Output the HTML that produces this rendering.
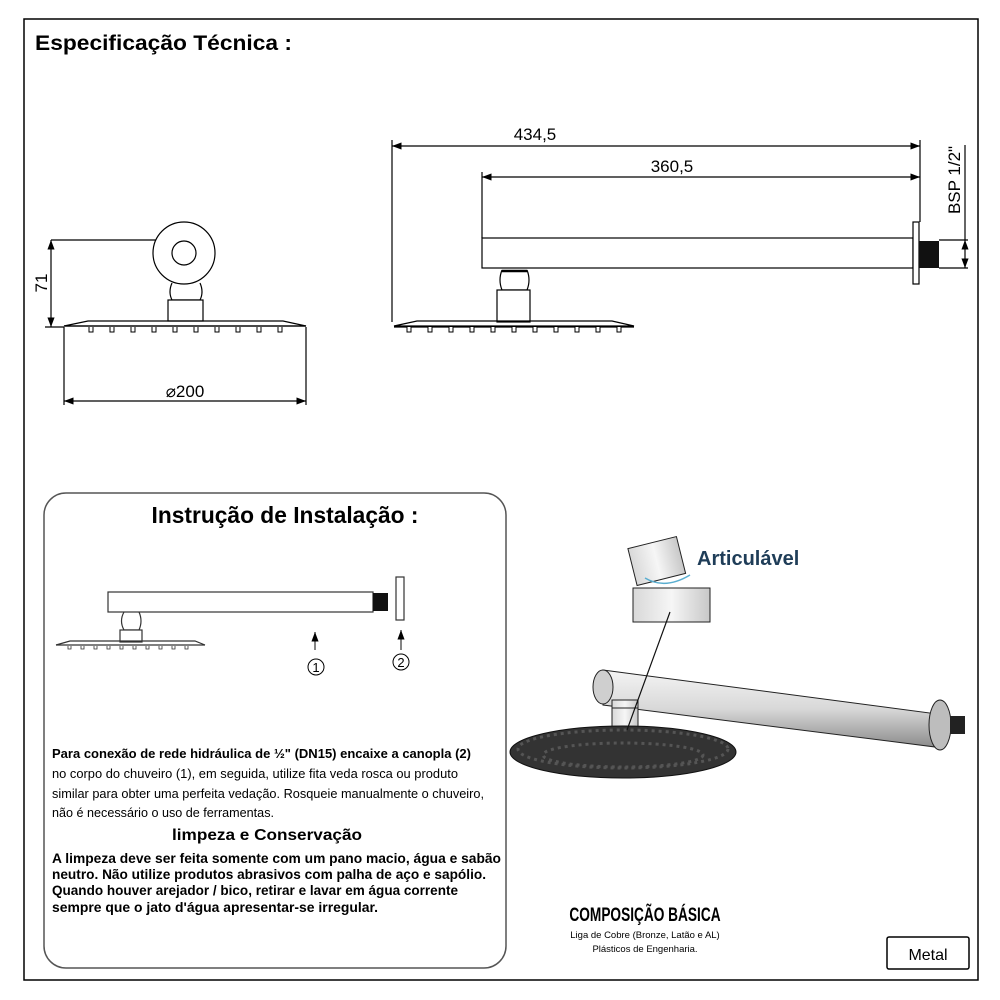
<!DOCTYPE html>
<html><head><meta charset="utf-8"><style>
html,body{margin:0;padding:0;background:#fff;}
svg{display:block;}
text{font-family:"Liberation Sans",sans-serif;}
</style></head><body>
<svg width="1000" height="1000" viewBox="0 0 1000 1000" xmlns="http://www.w3.org/2000/svg">
<defs>
<linearGradient id="tube" x1="0" y1="0" x2="0" y2="1">
<stop offset="0" stop-color="#f4f4f4"/><stop offset="0.5" stop-color="#d8d8d8"/><stop offset="1" stop-color="#8a8a8a"/>
</linearGradient>
<linearGradient id="box" x1="0" y1="0" x2="1" y2="0">
<stop offset="0" stop-color="#d8d8d8"/><stop offset="0.5" stop-color="#f6f6f6"/><stop offset="1" stop-color="#c8c8c8"/>
</linearGradient>
<marker id="ar" markerWidth="8" markerHeight="6" refX="8" refY="3" orient="auto"><path d="M0,0 L8,3 L0,6 z" fill="#000"/></marker>
<marker id="al" markerWidth="8" markerHeight="6" refX="0" refY="3" orient="auto"><path d="M8,0 L0,3 L8,6 z" fill="#000"/></marker>
</defs>
<rect x="24" y="19" width="954" height="961" fill="none" stroke="#000" stroke-width="1.5"/>
<text x="35" y="50" font-size="21" font-weight="bold" textLength="257" lengthAdjust="spacingAndGlyphs">Especificação Técnica :</text>

<!-- left drawing -->
<g stroke="#000" fill="none" stroke-width="1.2">
<line x1="51" y1="240" x2="184" y2="240"/>
<line x1="51" y1="240" x2="51" y2="327" marker-start="url(#al)" marker-end="url(#ar)"/>
<line x1="45" y1="327" x2="64" y2="327"/>
<circle cx="184" cy="253" r="31" fill="#fff"/>
<circle cx="184" cy="253" r="12"/>
<path d="M172,283 Q168,292 172,300 L200,300 Q204,292 200,283"/>
<rect x="168" y="300" width="35" height="21" fill="#fff"/>
<path d="M64,326 L88,321 L283,321 L306,326 Z"/>
<line x1="64" y1="326" x2="306" y2="326"/>
<line x1="64" y1="327" x2="64" y2="405"/>
<line x1="306" y1="327" x2="306" y2="405"/>
<line x1="64" y1="401" x2="306" y2="401" marker-start="url(#al)" marker-end="url(#ar)"/>
</g>
<g fill="#fff" stroke="#000" stroke-width="1">
<path d="M89,327 v5 h4 v-5"/><path d="M110,327 v5 h4 v-5"/><path d="M131,327 v5 h4 v-5"/><path d="M152,327 v5 h4 v-5"/><path d="M173,327 v5 h4 v-5"/><path d="M194,327 v5 h4 v-5"/><path d="M215,327 v5 h4 v-5"/><path d="M236,327 v5 h4 v-5"/><path d="M257,327 v5 h4 v-5"/><path d="M278,327 v5 h4 v-5"/>
</g>
<text x="185" y="397" font-size="17" text-anchor="middle">⌀200</text>
<text transform="translate(47,283) rotate(-90)" font-size="17" text-anchor="middle">71</text>

<!-- right drawing -->
<g stroke="#000" fill="none" stroke-width="1.2">
<line x1="392" y1="146" x2="920" y2="146" marker-start="url(#al)" marker-end="url(#ar)"/>
<line x1="482" y1="177" x2="920" y2="177" marker-start="url(#al)" marker-end="url(#ar)"/>
<line x1="392" y1="140" x2="392" y2="322"/>
<line x1="482" y1="172" x2="482" y2="238"/>
<line x1="920" y1="140" x2="920" y2="222"/>
<rect x="482" y="238" width="431" height="30" fill="#fff"/>
<rect x="913" y="222" width="6" height="62" fill="#fff"/>
<line x1="939" y1="240" x2="968" y2="240"/>
<line x1="939" y1="268" x2="968" y2="268"/>
<line x1="965" y1="145" x2="965" y2="240"/>
<line x1="965" y1="240" x2="965" y2="268" marker-start="url(#al)" marker-end="url(#ar)"/>
<path d="M502,270 Q498,280 502,290 L527,290 Q531,280 527,270"/>
<line x1="502" y1="271" x2="527" y2="271" stroke-width="2.5"/>
<rect x="497" y="290" width="33" height="32" fill="#fff"/>
<path d="M394,326 L417,321 L612,321 L634,326 Z"/>
<line x1="394" y1="327" x2="634" y2="327"/>
</g>
<rect x="919" y="241" width="20" height="27" fill="#111"/>
<g fill="#fff" stroke="#000" stroke-width="1">
<path d="M407,327 v5 h4 v-5"/><path d="M428,327 v5 h4 v-5"/><path d="M449,327 v5 h4 v-5"/><path d="M470,327 v5 h4 v-5"/><path d="M491,327 v5 h4 v-5"/><path d="M512,327 v5 h4 v-5"/><path d="M533,327 v5 h4 v-5"/><path d="M554,327 v5 h4 v-5"/><path d="M575,327 v5 h4 v-5"/><path d="M596,327 v5 h4 v-5"/><path d="M617,327 v5 h4 v-5"/>
</g>
<text x="535" y="140" font-size="17" text-anchor="middle">434,5</text>
<text x="672" y="172" font-size="17" text-anchor="middle">360,5</text>
<text transform="translate(960,180) rotate(-90)" font-size="17" text-anchor="middle">BSP 1/2"</text>

<!-- installation box -->
<rect x="44" y="493" width="462" height="475" rx="22" fill="none" stroke="#555" stroke-width="1.5"/>
<text x="285" y="523" font-size="23" font-weight="bold" text-anchor="middle" textLength="267" lengthAdjust="spacingAndGlyphs">Instrução de Instalação :</text>
<g stroke="#333" fill="none" stroke-width="1.2">
<rect x="108" y="592" width="265" height="20" fill="#fff"/>
<rect x="396" y="577" width="8" height="43" fill="#fff"/>
<path d="M124,612 Q119,621 124,630 L139,630 Q143,621 139,612"/>
<rect x="120" y="630" width="22" height="12" fill="#fff"/>
<path d="M56,645 L70,641 L195,641 L205,645"/>
<line x1="56" y1="645" x2="205" y2="645"/>
<line x1="315" y1="650" x2="315" y2="632" marker-end="url(#ar)"/>
<line x1="401" y1="650" x2="401" y2="630" marker-end="url(#ar)"/>
</g>
<rect x="373" y="593" width="15" height="18" fill="#111"/>
<g fill="#fff" stroke="#333" stroke-width="0.8">
<path d="M68,646 v3 h3 v-3"/><path d="M81,646 v3 h3 v-3"/><path d="M94,646 v3 h3 v-3"/><path d="M107,646 v3 h3 v-3"/><path d="M120,646 v3 h3 v-3"/><path d="M133,646 v3 h3 v-3"/><path d="M146,646 v3 h3 v-3"/><path d="M159,646 v3 h3 v-3"/><path d="M172,646 v3 h3 v-3"/><path d="M185,646 v3 h3 v-3"/>
</g>
<circle cx="316" cy="667" r="8" fill="none" stroke="#000"/>
<text x="316" y="672" font-size="13" text-anchor="middle">1</text>
<circle cx="401" cy="662" r="8" fill="none" stroke="#000"/>
<text x="401" y="667" font-size="13" text-anchor="middle">2</text>

<g font-size="12.5" fill="#000">
<text x="52" y="758" font-weight="bold" textLength="419" lengthAdjust="spacingAndGlyphs">Para conexão de rede hidráulica de ½" (DN15) encaixe a canopla (2)</text>
<text x="52" y="778" textLength="406" lengthAdjust="spacingAndGlyphs">no corpo do chuveiro (1), em seguida, utilize fita veda rosca ou produto</text>
<text x="52" y="798" textLength="432" lengthAdjust="spacingAndGlyphs">similar para obter uma perfeita vedação. Rosqueie manualmente o chuveiro,</text>
<text x="52" y="817" textLength="222" lengthAdjust="spacingAndGlyphs">não é necessário o uso de ferramentas.</text>
</g>
<text x="267" y="840" font-size="16" font-weight="bold" text-anchor="middle" textLength="190" lengthAdjust="spacingAndGlyphs">limpeza e Conservação</text>
<g font-size="13.5" font-weight="bold">
<text x="52" y="863" textLength="449" lengthAdjust="spacingAndGlyphs">A limpeza deve ser feita somente com um pano macio, água e sabão</text>
<text x="52" y="879" textLength="434" lengthAdjust="spacingAndGlyphs">neutro. Não utilize produtos  abrasivos com palha de aço e sapólio.</text>
<text x="52" y="895" textLength="406" lengthAdjust="spacingAndGlyphs">Quando houver arejador / bico, retirar e lavar em água corrente</text>
<text x="52" y="912" textLength="326" lengthAdjust="spacingAndGlyphs">sempre que o jato d'água apresentar-se irregular.</text>
</g>

<!-- 3D render -->
<g transform="rotate(-14 657 562)"><rect x="632" y="542" width="50" height="38" fill="url(#box)" stroke="#222"/></g>
<path d="M645,578 Q665,590 690,575" fill="none" stroke="#5aaed0" stroke-width="1.5"/>
<rect x="633" y="588" width="77" height="34" fill="url(#box)" stroke="#222"/>
<text x="697" y="565" font-size="20" font-weight="bold" fill="#1f3d58">Articulável</text>
<path d="M603,670 L945,715 L943,748 L603,705 Z" fill="url(#tube)" stroke="#222"/>
<ellipse cx="603" cy="687" rx="10" ry="17" fill="#cfcfcf" stroke="#222"/>
<ellipse cx="940" cy="725" rx="11" ry="25" fill="#bdbdbd" stroke="#222"/>
<rect x="950" y="716" width="15" height="18" fill="#222"/>
<rect x="612" y="700" width="26" height="32" fill="url(#box)" stroke="#222"/>
<line x1="612" y1="708" x2="638" y2="708" stroke="#222"/>
<ellipse cx="623" cy="752" rx="113" ry="26" fill="#333" stroke="#111"/>
<ellipse cx="623" cy="749" rx="105" ry="19" fill="none" stroke="#555" stroke-dasharray="3 4" stroke-width="3"/>
<ellipse cx="623" cy="755" rx="80" ry="12" fill="none" stroke="#555" stroke-dasharray="3 4" stroke-width="3"/>
<line x1="670" y1="612" x2="627" y2="730" stroke="#111" stroke-width="1.2"/>

<text transform="translate(645,921) scale(0.72,1)" font-size="19" font-weight="bold" text-anchor="middle">COMPOSIÇÃO BÁSICA</text>
<text x="645" y="938" font-size="9.5" text-anchor="middle">Liga de Cobre (Bronze, Latão e AL)</text>
<text x="645" y="952" font-size="9.5" text-anchor="middle">Plásticos de Engenharia.</text>
<rect x="887" y="937" width="82" height="32" rx="2" fill="none" stroke="#000" stroke-width="1.5"/>
<text x="928" y="960" font-size="16" text-anchor="middle">Metal</text>
</svg>
</body></html>
